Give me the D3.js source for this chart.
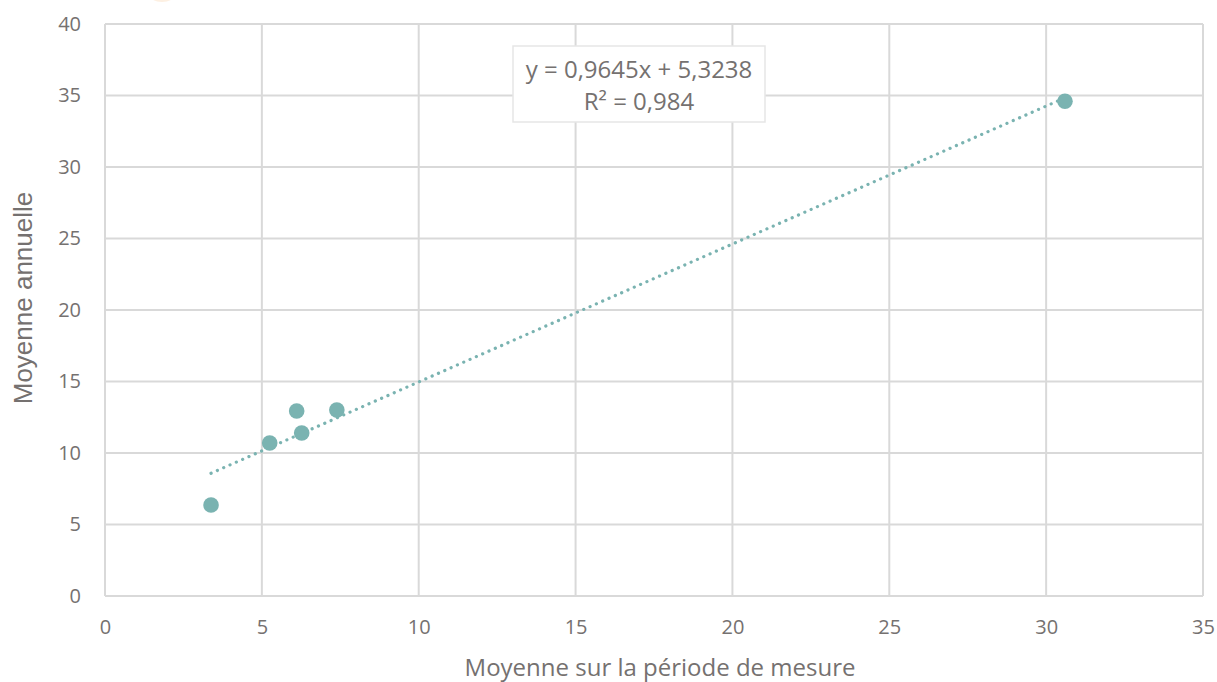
<!DOCTYPE html>
<html>
<head>
<meta charset="utf-8">
<script src="https://cdn.jsdelivr.net/npm/d3@7"></script>
<style>
  body { margin: 0; background: #fff; }
  text { font-family: "Open Sans", "Noto Sans", sans-serif; }
</style>
</head>
<body>
<div id="chart"></div>
<script>
// data
var xValues = [3.38, 5.25, 6.11, 6.27, 7.39, 30.6];
var yValues = [6.36, 10.7, 12.94, 11.4, 13.0, 34.6];
var xTicks = [0, 5, 10, 15, 20, 25, 30, 35];
var yTicks = [0, 5, 10, 15, 20, 25, 30, 35, 40];
var slope = 0.9645, intercept = 5.3238;
var eqLines = ["y = 0,9645x + 5,3238", "R² = 0,984"];

var width = 1217, height = 682;
var margin = {left: 105, right: 14, top: 24, bottom: 86};

var svg = d3.select("#chart").append("svg")
    .attr("width", width)
    .attr("height", height);

// faint orange blob cut off at the top
svg.append("ellipse")
    .attr("cx", 162).attr("cy", -10)
    .attr("rx", 16).attr("ry", 12)
    .attr("fill", "#fdf0e2");

var x = d3.scaleLinear().domain([0, 35]).range([margin.left, width - margin.right]);
var y = d3.scaleLinear().domain([0, 40]).range([height - margin.bottom, margin.top]);

var grid = svg.append("g");
grid.selectAll(".vx")
    .data(xTicks)
    .enter().append("line")
    .attr("x1", function (d) { return x(d); })
    .attr("x2", function (d) { return x(d); })
    .attr("y1", y(0)).attr("y2", y(40))
    .attr("stroke", "#d9d9d9").attr("stroke-width", 2);
grid.selectAll(".hy")
    .data(yTicks)
    .enter().append("line")
    .attr("y1", function (d) { return y(d); })
    .attr("y2", function (d) { return y(d); })
    .attr("x1", x(0)).attr("x2", x(35))
    .attr("stroke", "#d9d9d9").attr("stroke-width", 2);

// axes (only labels, lines come from grid)
var xAxis = svg.append("g")
    .attr("transform", "translate(0," + y(0) + ")")
    .call(d3.axisBottom(x).tickValues(xTicks).tickSize(0).tickPadding(24));
var yAxis = svg.append("g")
    .attr("transform", "translate(" + x(0) + ",0)")
    .call(d3.axisLeft(y).tickValues(yTicks).tickSize(0).tickPadding(24));
[xAxis, yAxis].forEach(function (a) {
    a.select(".domain").remove();
    a.selectAll("text")
        .attr("fill", "#757170")
        .style("font-size", "20px")
        .style("font-family", "'Open Sans', sans-serif");
});

// trendline
var x0 = d3.min(xValues), x1 = d3.max(xValues);
svg.append("line")
    .attr("x1", x(x0)).attr("y1", y(slope * x0 + intercept))
    .attr("x2", x(x1)).attr("y2", y(slope * x1 + intercept))
    .attr("stroke", "#7ab3b1")
    .attr("stroke-width", 3.2)
    .attr("stroke-dasharray", "0.1,6.8")
    .attr("stroke-linecap", "round");

// points
svg.selectAll(".pt")
    .data(xValues)
    .enter().append("circle")
    .attr("class", "pt")
    .attr("cx", function (d) { return x(d); })
    .attr("cy", function (d, i) { return y(yValues[i]); })
    .attr("r", 7.8)
    .attr("fill", "#7ab3b1");

// equation box
var box = svg.append("g").attr("transform", "translate(513,46)");
box.append("rect")
    .attr("width", 252).attr("height", 76)
    .attr("fill", "#fff")
    .attr("stroke", "#e6e6e6").attr("stroke-width", 1.5);
box.selectAll("text")
    .data(eqLines)
    .enter().append("text")
    .attr("x", 126)
    .attr("y", function (d, i) { return 32 + i * 32; })
    .attr("text-anchor", "middle")
    .attr("fill", "#757170")
    .style("font-size", "24px")
    .text(function (d) { return d; });

// axis titles
svg.append("text")
    .attr("x", x(17.5) + 6)
    .attr("y", 676)
    .attr("text-anchor", "middle")
    .attr("fill", "#757170")
    .style("font-size", "24px")
    .text("Moyenne sur la période de mesure");
svg.append("text")
    .attr("transform", "translate(32," + (y(20) - 12) + ") rotate(-90)")
    .attr("text-anchor", "middle")
    .attr("fill", "#757170")
    .style("font-size", "26px")
    .style("font-family", "'Liberation Sans', Arial, sans-serif")
    .text("Moyenne annuelle");
</script>
</body>
</html>
